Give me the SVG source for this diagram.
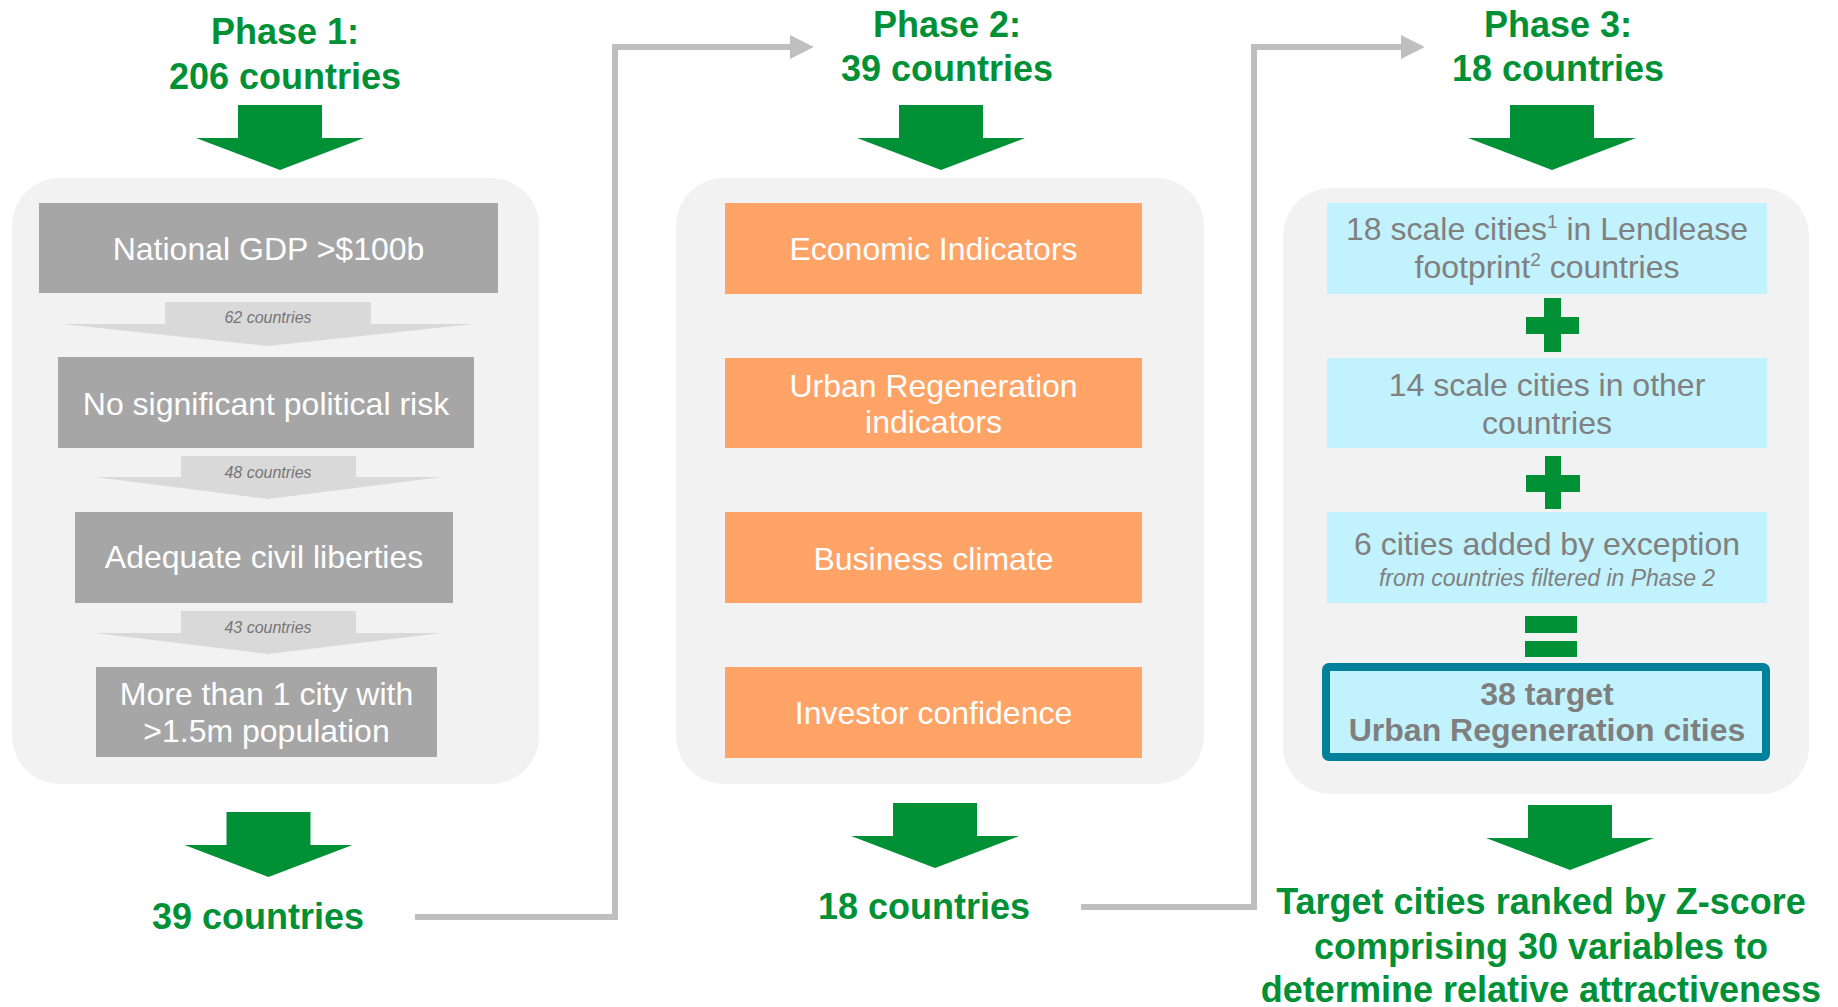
<svg xmlns="http://www.w3.org/2000/svg" width="1838" height="1007" viewBox="0 0 1838 1007">
  <style>
    .panel { fill: #f2f2f2; }
    .grey-box { fill: #a6a6a6; }
    .orange-box { fill: #ffa366; }
    .cyan-box { fill: #c2f2fd; }
    .green { fill: #009036; }
    .step-arrow { fill: #d9d9d9; }
    text { font-family: "Liberation Sans", Arial, sans-serif; text-anchor: middle; }
    .title { font-size: 36px; font-weight: bold; fill: #009036; }
    .box-white { font-size: 32px; fill: #ffffff; }
    .box-grey { font-size: 32px; fill: #808080; }
    .box-grey-bold { font-size: 32px; font-weight: bold; fill: #7f7f7f; }
    .count { font-size: 16px; font-style: italic; fill: #767676; }
    .note { font-size: 23px; font-style: italic; fill: #808080; }
    .sup { font-size: 19px; }
    .connector { fill: none; stroke: #bfbfbf; stroke-width: 6; }
  </style>
  <defs>
    <!-- big green downward arrow, origin at top centre of the shaft -->
    <path id="bigArrow" d="M-42,0 H42 V33 H84 L0,65 L-84,33 H-42 Z"/>
    <marker id="greyHead" markerWidth="5" markerHeight="5" refX="0.2" refY="2" orient="auto" markerUnits="strokeWidth" viewBox="0 0 5 4">
      <path d="M0,0 L4,2 L0,4 Z" fill="#bfbfbf"/>
    </marker>
  </defs>

  <rect width="1838" height="1007" fill="#ffffff"/>

  <!-- connectors between phases -->
  <g id="connectors">
    <polyline class="connector" points="415,917 615,917 615,47 791,47" marker-end="url(#greyHead)"/>
    <polyline class="connector" points="1081,907 1254,907 1254,47 1402,47" marker-end="url(#greyHead)"/>
  </g>

  <!-- Phase 1 -->
  <g id="phase1-title">
    <text class="title" x="285" y="44">Phase 1:</text>
    <text class="title" x="285" y="89">206 countries</text>
    <use href="#bigArrow" class="green" x="280" y="105"/>
  </g>
  <g id="phase1-panel">
    <rect class="panel" x="12" y="178" width="527" height="606" rx="48" ry="48"/>
  </g>
  <g id="p1-gdp">
    <rect class="grey-box" x="39" y="203" width="459" height="90"/>
    <text class="box-white" x="268.5" y="260">National GDP &gt;$100b</text>
  </g>
  <g id="p1-step62">
    <polygon class="step-arrow" points="165,302 371,302 371,324 473,324 268,346 62,324 165,324"/>
    <text class="count" x="268" y="323">62 countries</text>
  </g>
  <g id="p1-political">
    <rect class="grey-box" x="58" y="357" width="416" height="91"/>
    <text class="box-white" x="266" y="415">No significant political risk</text>
  </g>
  <g id="p1-step48">
    <polygon class="step-arrow" points="181,456 356,456 356,477 442,477 268,499 95,477 181,477"/>
    <text class="count" x="268" y="478">48 countries</text>
  </g>
  <g id="p1-liberties">
    <rect class="grey-box" x="75" y="512" width="378" height="91"/>
    <text class="box-white" x="264" y="568">Adequate civil liberties</text>
  </g>
  <g id="p1-step43">
    <polygon class="step-arrow" points="181,611 356,611 356,633 442,633 268,654 95,633 181,633"/>
    <text class="count" x="268" y="633">43 countries</text>
  </g>
  <g id="p1-population">
    <rect class="grey-box" x="96" y="667" width="341" height="90"/>
    <text class="box-white" x="266.5" y="705">More than 1 city with</text>
    <text class="box-white" x="266.5" y="742">&gt;1.5m population</text>
  </g>
  <g id="phase1-result">
    <use href="#bigArrow" class="green" x="268.5" y="812"/>
    <text class="title" x="258" y="929">39 countries</text>
  </g>

  <!-- Phase 2 -->
  <g id="phase2-title">
    <text class="title" x="947" y="37">Phase 2:</text>
    <text class="title" x="947" y="81">39 countries</text>
    <use href="#bigArrow" class="green" x="941" y="105"/>
  </g>
  <g id="phase2-panel">
    <rect class="panel" x="676" y="178" width="528" height="606" rx="48" ry="48"/>
  </g>
  <g id="p2-economic">
    <rect class="orange-box" x="725" y="203" width="417" height="91"/>
    <text class="box-white" x="933.5" y="260">Economic Indicators</text>
  </g>
  <g id="p2-urban">
    <rect class="orange-box" x="725" y="358" width="417" height="90"/>
    <text class="box-white" x="933.5" y="397">Urban Regeneration</text>
    <text class="box-white" x="933.5" y="433">indicators</text>
  </g>
  <g id="p2-business">
    <rect class="orange-box" x="725" y="512" width="417" height="91"/>
    <text class="box-white" x="933.5" y="570">Business climate</text>
  </g>
  <g id="p2-investor">
    <rect class="orange-box" x="725" y="667" width="417" height="91"/>
    <text class="box-white" x="933.5" y="724">Investor confidence</text>
  </g>
  <g id="phase2-result">
    <use href="#bigArrow" class="green" x="935" y="803"/>
    <text class="title" x="924" y="919">18 countries</text>
  </g>

  <!-- Phase 3 -->
  <g id="phase3-title">
    <text class="title" x="1558" y="37">Phase 3:</text>
    <text class="title" x="1558" y="81">18 countries</text>
    <use href="#bigArrow" class="green" x="1552" y="105"/>
  </g>
  <g id="phase3-panel">
    <rect class="panel" x="1283" y="188" width="526" height="606" rx="48" ry="48"/>
  </g>
  <g id="p3-footprint">
    <rect class="cyan-box" x="1327" y="203" width="440" height="91"/>
    <text class="box-grey" x="1547" y="240">18 scale cities<tspan class="sup" dy="-12">1</tspan><tspan dy="12"> in Lendlease</tspan></text>
    <text class="box-grey" x="1547" y="278">footprint<tspan class="sup" dy="-12">2</tspan><tspan dy="12"> countries</tspan></text>
  </g>
  <g id="p3-plus1" class="green">
    <rect x="1544" y="298" width="17" height="54"/>
    <rect x="1526" y="317" width="53" height="17"/>
  </g>
  <g id="p3-other">
    <rect class="cyan-box" x="1327" y="358" width="440" height="90"/>
    <text class="box-grey" x="1547" y="396">14 scale cities in other</text>
    <text class="box-grey" x="1547" y="434">countries</text>
  </g>
  <g id="p3-plus2" class="green">
    <rect x="1545" y="456" width="16" height="53"/>
    <rect x="1526" y="475" width="54" height="17"/>
  </g>
  <g id="p3-exception">
    <rect class="cyan-box" x="1327" y="512" width="440" height="91"/>
    <text class="box-grey" x="1547" y="555">6 cities added by exception</text>
    <text class="note" x="1547" y="586">from countries filtered in Phase 2</text>
  </g>
  <g id="p3-equals" class="green">
    <rect x="1525" y="616" width="52" height="17"/>
    <rect x="1525" y="641" width="52" height="16"/>
  </g>
  <g id="p3-target">
    <rect x="1326" y="667" width="440" height="90" rx="3" ry="3" fill="#c2f2fd" stroke="#00809b" stroke-width="8"/>
    <text class="box-grey-bold" x="1547" y="705">38 target</text>
    <text class="box-grey-bold" x="1547" y="741">Urban Regeneration cities</text>
  </g>
  <g id="phase3-result">
    <use href="#bigArrow" class="green" x="1570" y="805"/>
    <text class="title" x="1541" y="914">Target cities ranked by Z-score</text>
    <text class="title" x="1541" y="959">comprising 30 variables to</text>
    <text class="title" x="1541" y="1002">determine relative attractiveness</text>
  </g>
</svg>
